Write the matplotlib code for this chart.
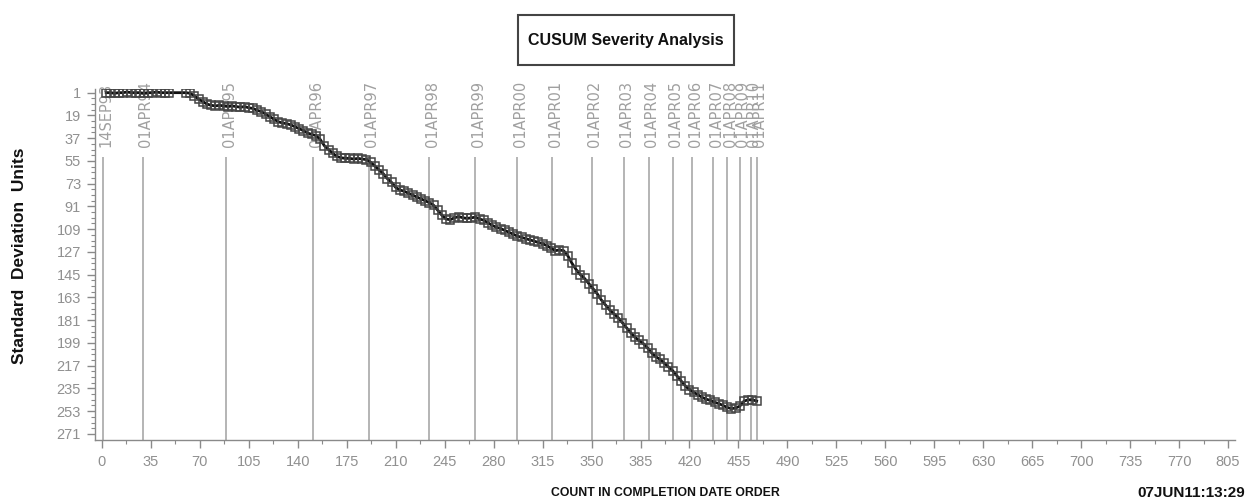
import numpy as np
import matplotlib
matplotlib.use("Agg")
import matplotlib.pyplot as plt
from matplotlib import font_manager
from matplotlib.ticker import FixedLocator
from matplotlib.patches import Rectangle

# ---------------- data ----------------
counts_early = np.arange(3, 49, 3)
values_early = [1, 1, 1.5, 1, 1, 0.5, 1, 1, 1, 1.5, 1, 1, 0.5, 1, 1, 1]

counts_main = np.arange(60, 469, 3)
values_main = [
    1, 1.5, 3.5, 6, 8, 10, 11, 11.5, 11, 11.5,
    12, 11.5, 12, 12.5, 12, 13, 13.5, 15, 16, 18,
    20, 22, 24, 25, 25.5, 26.5, 28, 29.5, 31, 33,
    34, 35, 38, 43, 46, 49, 51.5, 52.5, 53, 53,
    53.5, 53, 53.5, 54, 56, 59, 62, 65, 69, 72,
    76, 78, 79, 80.5, 82, 83.5, 85, 86.5, 88, 90,
    94, 98, 101, 101.5, 100, 99, 100, 100.5, 100, 99.5,
    101, 102, 104, 106, 107.5, 108.5, 110, 111.5, 113, 114.5,
    115.5, 116.5, 117.5, 118.5, 119.5, 120.5, 122, 124, 126, 125.5,
    126, 130, 136, 141, 145, 148, 152, 156, 160, 165,
    169, 173, 176, 179, 183, 187, 191, 194.5, 197, 199.5,
    203, 207, 210, 212, 215, 218, 221, 225, 229, 233,
    236, 238, 240, 242, 243.5, 244.5, 246, 247, 248.5, 250,
    251, 250.5, 249, 245, 244, 244, 245,
]

date_labels = ["14SEP93", "01APR94", "01APR95", "01APR96", "01APR97", "01APR98",
               "01APR99", "01APR00", "01APR01", "01APR02", "01APR03", "01APR04",
               "01APR05", "01APR06", "01APR07", "01APR08", "01APR09", "01APR10",
               "01APR11"]
date_positions = [1, 29, 89, 151, 191, 234, 267, 297, 322, 350, 373, 391,
                  408, 422, 437, 447, 456, 464, 468]

x_ticks = list(range(0, 806, 35))
y_ticks = list(range(1, 272, 18))

# ---------------- fonts ----------------
names = {f.name for f in font_manager.fontManager.ttflist}
narrow = "Liberation Sans Narrow" if "Liberation Sans Narrow" in names else "Liberation Sans"

# ---------------- figure ----------------
fig = plt.figure(figsize=(12.47, 5.04), dpi=100)
ax = fig.add_axes([95 / 1247, 64 / 504, (1235 - 95) / 1247, (440 - 89) / 504])

ax.set_xlim(-5, 810)
ax.set_ylim(275.8, -1.9)

# date reference lines
ax.vlines(date_positions, 52, 275.8, colors="#a8a8a8", linewidth=1.2, zorder=1)
for pos, lab in zip(date_positions, date_labels):
    ax.text(pos + 2, 44, lab, rotation=90, ha="center", va="bottom",
            fontsize=10.5, color="#a0a0a0", family="DejaVu Sans", zorder=2)

# CUSUM curve
x_all = np.concatenate([counts_early, counts_main])
y_all = np.concatenate([values_early, values_main])
ax.plot(x_all, y_all, color="#111111", linewidth=2.0, marker="s", markersize=6,
        markerfacecolor="none", markeredgecolor="#444444", markeredgewidth=1.1,
        zorder=3)

# axes styling
for s in ("top", "right"):
    ax.spines[s].set_visible(False)
for s in ("left", "bottom"):
    ax.spines[s].set_color("#8a8a8a")
    ax.spines[s].set_linewidth(1.0)

ax.xaxis.set_major_locator(FixedLocator(x_ticks))
ax.xaxis.set_minor_locator(FixedLocator([t + 17.5 for t in x_ticks[:-1]]))
ax.yaxis.set_major_locator(FixedLocator(y_ticks))
ax.yaxis.set_minor_locator(FixedLocator([t + k * 4.5 for t in y_ticks[:-1] for k in (1, 2, 3)]))

ax.tick_params(axis="both", which="major", direction="out", length=6, width=1,
               color="#8a8a8a", labelcolor="#909090", labelsize=10.5)
ax.tick_params(axis="both", which="minor", direction="out", length=3, width=0.8,
               color="#8a8a8a")
ax.tick_params(axis="x", which="major", pad=5)
ax.tick_params(axis="y", which="major", pad=4)

ax.set_xticklabels([str(t) for t in x_ticks])
ax.set_yticklabels([str(t) for t in y_ticks])
for lbl in ax.get_xticklabels() + ax.get_yticklabels():
    lbl.set_family(narrow)

# title with box
fig.add_artist(Rectangle((518 / 1247, 1 - 65 / 504), 216 / 1247, 50 / 504,
                         transform=fig.transFigure, fill=False,
                         edgecolor="#444444", linewidth=1.5))
fig.text(626 / 1247, 1 - 41 / 504, "CUSUM Severity Analysis", ha="center",
         va="center", fontsize=11.5, fontweight="bold", family=narrow, color="#111111")

# axis titles
fig.text(20 / 1247, 1 - 256 / 504, "Standard  Deviation  Units", rotation=90,
         ha="center", va="center", fontsize=12.5, fontweight="bold",
         family="Liberation Sans", color="#111111")
fig.text(665 / 1247, 1 - 493 / 504, "COUNT IN COMPLETION DATE ORDER", ha="center",
         va="center", fontsize=8.8, fontweight="bold", family=narrow, color="#111111")
fig.text(1245 / 1247, 1 - 493 / 504, "07JUN11:13:29", ha="right", va="center",
         fontsize=11, fontweight="bold", family=narrow, color="#111111")

fig.savefig("out.png", dpi=100, facecolor="white")
